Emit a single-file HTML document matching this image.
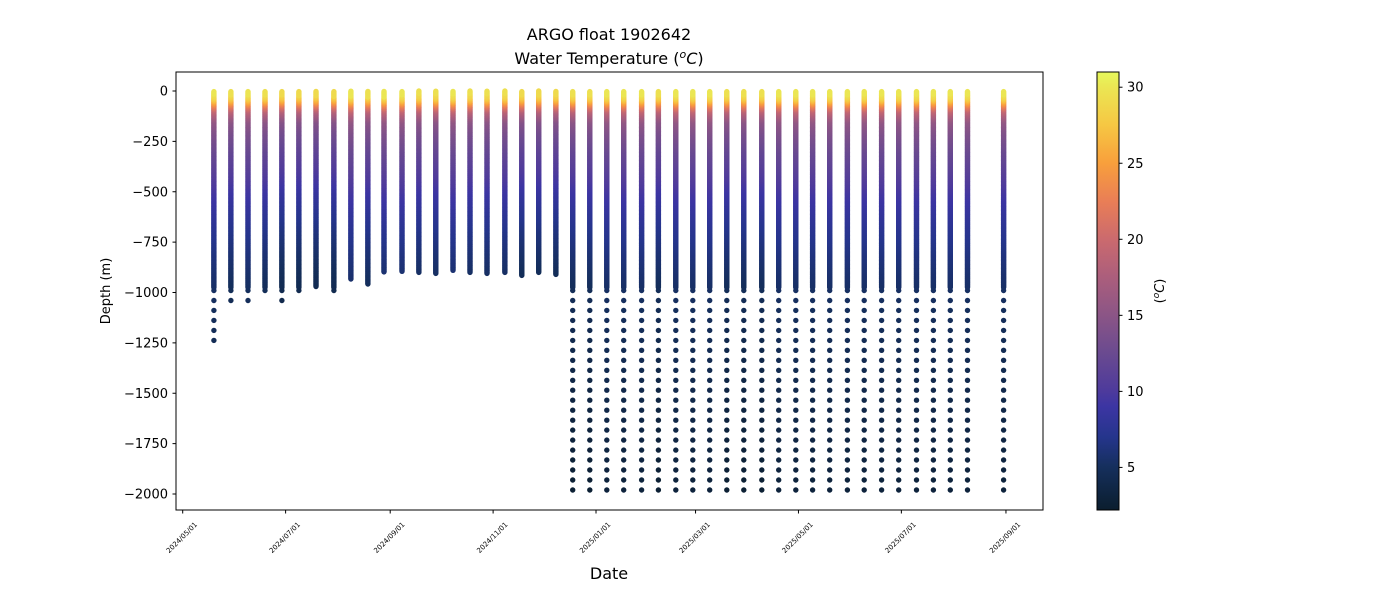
<!DOCTYPE html>
<html><head><meta charset="utf-8">
<style>
html,body{margin:0;padding:0;background:#fff;}
svg{display:block;font-family:"DejaVu Sans","Liberation Sans",sans-serif;}
</style></head>
<body>
<svg id="chart" width="1400" height="600" viewBox="0 0 1400 600">
<defs>
<linearGradient id="cbgrad" x1="0" y1="1" x2="0" y2="0"></linearGradient>
<clipPath id="plotclip"><rect x="176" y="72" width="867" height="438"/></clipPath>
</defs>
<text x="609" y="40" font-size="16" text-anchor="middle" fill="#000">ARGO float 1902642</text>
<text x="609" y="64" font-size="16" text-anchor="middle" fill="#000">Water Temperature (<tspan font-style="italic" font-size="11" dy="-6">o</tspan><tspan font-style="italic" dy="6">C</tspan>)</text>
<g id="marks" clip-path="url(#plotclip)"></g>
<rect x="176" y="72" width="867" height="438" fill="none" stroke="#000" stroke-width="1"/>
<g id="yaxis"></g>
<g id="xaxis"></g>
<text transform="translate(110,291) rotate(-90)" font-size="13" text-anchor="middle">Depth (m)</text>
<text x="609" y="579" font-size="16" text-anchor="middle">Date</text>
<rect x="1097" y="72" width="22" height="438" fill="url(#cbgrad)" stroke="#000" stroke-width="1"/>
<g id="cbaxis"></g>
<text transform="translate(1164,291) rotate(-90)" font-size="13" text-anchor="middle">(<tspan font-style="italic" font-size="9" dy="-5">o</tspan><tspan font-style="italic" dy="5">C</tspan>)</text>
</svg>
<script>
// ---- data ----
var profileDays = [18.5,28.6,38.7,48.8,58.8,68.9,79,89.6,99.7,109.8,119.3,130,140,150,160.2,170.3,180.4,191,201,211,221.2,231.2,241.3,251.4,261.4,272,282,292.3,302.4,312.4,322.5,332.6,343.3,353.3,363.4,373.4,383.5,394,404,414.3,424.4,435,445,455,465.2,486.6];
var contBottom = [975,975,975,975,975,975,970,975,933,958,898,895,900,905,890,900,905,900,915,900,910,975,975,975,975,975,975,975,975,975,975,975,975,975,975,975,975,975,975,975,975,975,975,975,975,975];
var deepBottom = [1240,1040,1040,990,1040,990,970,990,933,958,898,895,900,905,890,900,905,900,915,900,910,1980,1980,1980,1980,1980,1980,1980,1980,1980,1980,1980,1980,1980,1980,1980,1980,1980,1980,1980,1980,1980,1980,1980,1980,1980];
var surfaceTemp = [30,29.5,29.8,29.5,29,29,29,29,30,29.5,30,30,29.5,29.5,30,29.5,29.5,29.5,29,29,29,29.5,29.5,30,30,30,29.5,30,30,30,29.5,29.5,29.5,30,30,30,30,30,30,30,30,30,30,30,30,30];
var mixedLayer = [15,20,20,20,20,25,25,30,25,30,30,20,15,15,15,15,15,15,20,20,20,20,20,20,20,20,20,20,20,20,20,20,20,20,20,20,20,20,15,15,15,15,15,15,15,20];
var profDepths = [0,30,50,75,100,150,200,300,400,500,600,700,800,900,1000,1500,2000];
var profTemps  = [0,-1,-3.5,-7.5,-11,-14.5,-15.8,-17.6,-19,-20.5,-21.7,-22.7,-23.5,-24.2,-24.8,-26,-27];
var yTicks = [0,-250,-500,-750,-1000,-1250,-1500,-1750,-2000];
var xTickLabels = ["2024/05/01","2024/07/01","2024/09/01","2024/11/01","2025/01/01","2025/03/01","2025/05/01","2025/07/01","2025/09/01"];
var xTickDays = [0,61,123,184,245,304,365,426,488];
var cbTicks = [5,10,15,20,25,30];
var cmapT = [2.2,5,7,9,10,12.5,15,17.5,20,22.5,25,27.5,30,31];
var cmapC = ["#0b1e2e","#152f5c","#25358c","#3c35a3","#4d3a9c","#6a4a90","#8b5586","#ab5e7c","#cb6a6e","#e97e56","#f89f3c","#f6c743","#ebe653","#e6f95c"];
// ---- scales ----
var X0=182.7, PXD=1.687;
function xs(d){return X0+d*PXD;}
function ys(v){return 91 + (-v)*0.2015;}
var TMIN=2.2, TMAX=31;
function cbY(t){return 510-(t-TMIN)/(TMAX-TMIN)*438;}
function hex(c){return [parseInt(c.substr(1,2),16),parseInt(c.substr(3,2),16),parseInt(c.substr(5,2),16)];}
function color(t){
  if(t<=cmapT[0])return cmapC[0];
  for(var i=1;i<cmapT.length;i++){ if(t<=cmapT[i]){ var f=(t-cmapT[i-1])/(cmapT[i]-cmapT[i-1]); var a=hex(cmapC[i-1]),b=hex(cmapC[i]);
    return "rgb("+Math.round(a[0]+(b[0]-a[0])*f)+","+Math.round(a[1]+(b[1]-a[1])*f)+","+Math.round(a[2]+(b[2]-a[2])*f)+")";}}
  return cmapC[cmapC.length-1];
}
function tempAt(p,d){
  var sst=surfaceTemp[p], ml=mixedLayer[p];
  if(d<=ml) return sst;
  for(var i=1;i<profDepths.length;i++){ if(d<=profDepths[i]){ var f=(d-profDepths[i-1])/(profDepths[i]-profDepths[i-1]); return sst+profTemps[i-1]+(profTemps[i]-profTemps[i-1])*f; } }
  return sst+profTemps[profTemps.length-1];
}
var NS="http://www.w3.org/2000/svg";
function mk(tag,attrs,parent){var e=document.createElementNS(NS,tag);for(var k in attrs)e.setAttribute(k,attrs[k]);parent.appendChild(e);return e;}
var grad=document.getElementById('cbgrad');
for(var i=0;i<cmapT.length;i++){ mk('stop',{offset:((cmapT[i]-TMIN)/(TMAX-TMIN)),'stop-color':cmapC[i]},grad); }
var g=document.getElementById('marks');
for(var p=0;p<profileDays.length;p++){
  var cx=xs(profileDays[p]);
  var pg=mk('g',{},g);
  
  
  var pts=[];
  for(var d=contBottom[p]; d>=0; d-=4) pts.push(d);
  var deep=[];
  if(deepBottom[p]>contBottom[p]){
    var n=Math.round((deepBottom[p]-990)/49.5);
    for(var k=n;k>=0;k--) deep.push(990+k*49.5);
  }
  deep.concat(pts).forEach(function(dep){
    var c=mk('circle',{cx:cx.toFixed(1),cy:ys(-dep).toFixed(1),r:2.7,fill:color(tempAt(p,dep))},pg);
    
    
  });
}
var ya=document.getElementById('yaxis');
yTicks.forEach(function(v){
  var y=ys(v);
  var l=mk('line',{x1:172.5,x2:176,y1:y,y2:y,stroke:'#000'},ya);
  
  
  var t=mk('text',{x:168,y:y+4.5,'font-size':13,'text-anchor':'end'},ya);
  
  
  t.textContent=(v<0?'\u2212'+(-v):String(v));
});
var xa=document.getElementById('xaxis');
xTickLabels.forEach(function(lab,i){
  var x=xs(xTickDays[i]);
  var l=mk('line',{x1:x,x2:x,y1:510,y2:513.5,stroke:'#000'},xa);
  
  
  var t=mk('text',{transform:'translate('+(x+15)+',525) rotate(-45)','font-size':7,'text-anchor':'end'},xa);
  
  
  t.textContent=lab;
});
var ca=document.getElementById('cbaxis');
cbTicks.forEach(function(v){
  var y=cbY(v);
  var l=mk('line',{x1:1119,x2:1122.5,y1:y,y2:y,stroke:'#000'},ca);
  
  
  var t=mk('text',{x:1127,y:y+4.5,'font-size':13},ca);
  
  
  t.textContent=String(v);
});
</script>
</body></html>
